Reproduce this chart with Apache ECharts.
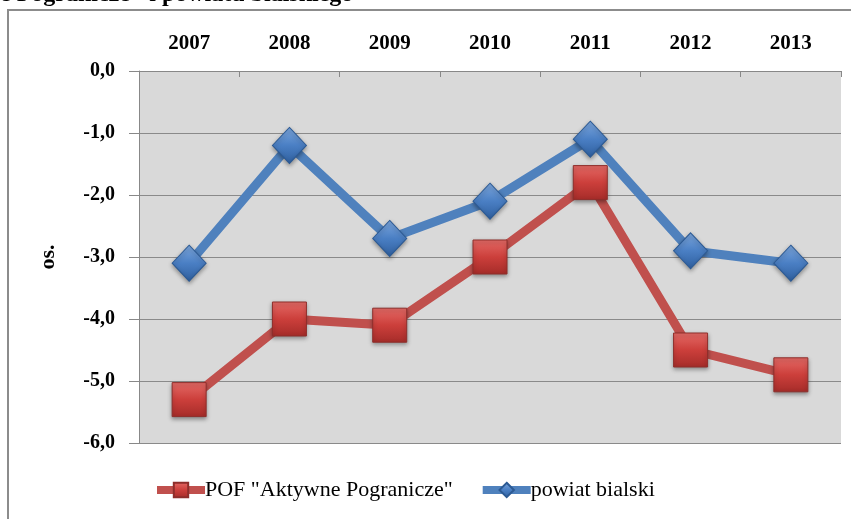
<!DOCTYPE html>
<html><head><meta charset="utf-8">
<script src="https://cdn.jsdelivr.net/npm/echarts@6/dist/echarts.min.js"></script>
<style>html,body{margin:0;padding:0;background:#fff}#c{width:851px;height:519px}</style>
</head><body><div id="c"></div>
<script>
const categories = ['2007','2008','2009','2010','2011','2012','2013'];
const pofValues = [-5.3, -4.0, -4.1, -3.0, -1.8, -4.5, -4.9];
const bialskiValues = [-3.1, -1.2, -2.7, -2.1, -1.1, -2.9, -3.1];
const seriesNames = ['POF "Aktywne Pogranicze"', 'powiat bialski'];
const yTicks = [0, -1, -2, -3, -4, -5, -6];

const font = '"Liberation Serif", "DejaVu Serif", serif';
const chart = echarts.init(document.getElementById('c'), null, {renderer: 'canvas'});
const redFill = {type:'linear',x:0,y:0,x2:0,y2:1,colorStops:[{offset:0,color:'#E46A66'},{offset:0.5,color:'#CC3F3B'},{offset:1,color:'#A52C29'}]};
const blueFill = {type:'linear',x:0,y:0,x2:0,y2:1,colorStops:[{offset:0,color:'#7EA8DE'},{offset:0.5,color:'#4A7FC4'},{offset:1,color:'#2F5F9E'}]};
chart.setOption({
  animation: false,
  backgroundColor: '#fff',
  graphic: [
    {type:'text', left: 0, top: -17, style:{text:'e Pogranicze" i powiatu bialskiego', font:'bold 24px ' + font, fill:'#000'}},
    {type:'rect', shape:{x:8, y:10, width:900, height:560}, style:{fill:'none', stroke:'#8c8c8c', lineWidth:2}, z:-1}
  ],
  grid: {left: 139, right: 10, top: 71, bottom: 76, show: true, backgroundColor: '#D9D9D9', borderWidth: 0},
  legend: {
    bottom: 13, left: 148, itemGap: 26, itemWidth: 48, itemHeight: 18,
    lineStyle: {width: 8},
    textStyle: {fontFamily: font, fontSize: 22, color: '#000', padding:[0,0,0,-5]},
    data: seriesNames
  },
  xAxis: {
    type: 'category', position: 'top', data: categories, boundaryGap: true,
    axisLine: {show: true, lineStyle: {color: '#888', width: 1}},
    axisTick: {show: true, inside: true, length: 6, lineStyle: {color: '#888'}},
    axisLabel: {fontFamily: font, fontWeight: 'bold', fontSize: 21, color: '#000', margin: 17}
  },
  yAxis: {
    type: 'value', min: -6, max: 0, interval: 1,
    name: 'os.', nameLocation: 'middle', nameGap: 80, nameRotate: 90,
    nameTextStyle: {fontFamily: font, fontWeight: 'bold', fontSize: 22, color: '#000'},
    axisLine: {show: true, lineStyle: {color: '#888', width: 1}},
    axisTick: {show: true, length: 10, lineStyle: {color: '#888'}},
    splitLine: {show: true, lineStyle: {color: '#8a8a8a', width: 1}},
    axisLabel: {fontFamily: font, fontWeight: 'bold', fontSize: 20, color: '#000', margin: 24,
      formatter: v => yTicks.includes(v) ? v.toFixed(1).replace('.', ',') : ''}
  },
  series: [
    {
      name: seriesNames[0], type: 'line', data: pofValues,
      symbol: 'rect', symbolSize: 34,
      lineStyle: {color: '#C0504D', width: 9},
      itemStyle: {color: redFill, borderColor: '#8E2E2B', borderWidth: 1, shadowBlur: 4, shadowColor: 'rgba(0,0,0,0.35)', shadowOffsetY: 2},
      z: 2
    },
    {
      name: seriesNames[1], type: 'line', data: bialskiValues,
      symbol: 'diamond', symbolSize: [34, 36],
      lineStyle: {color: '#4F81BD', width: 9},
      itemStyle: {color: blueFill, borderColor: '#2C5A94', borderWidth: 1, shadowBlur: 4, shadowColor: 'rgba(0,0,0,0.35)', shadowOffsetY: 2},
      z: 3
    }
  ]
});
</script></body></html>
